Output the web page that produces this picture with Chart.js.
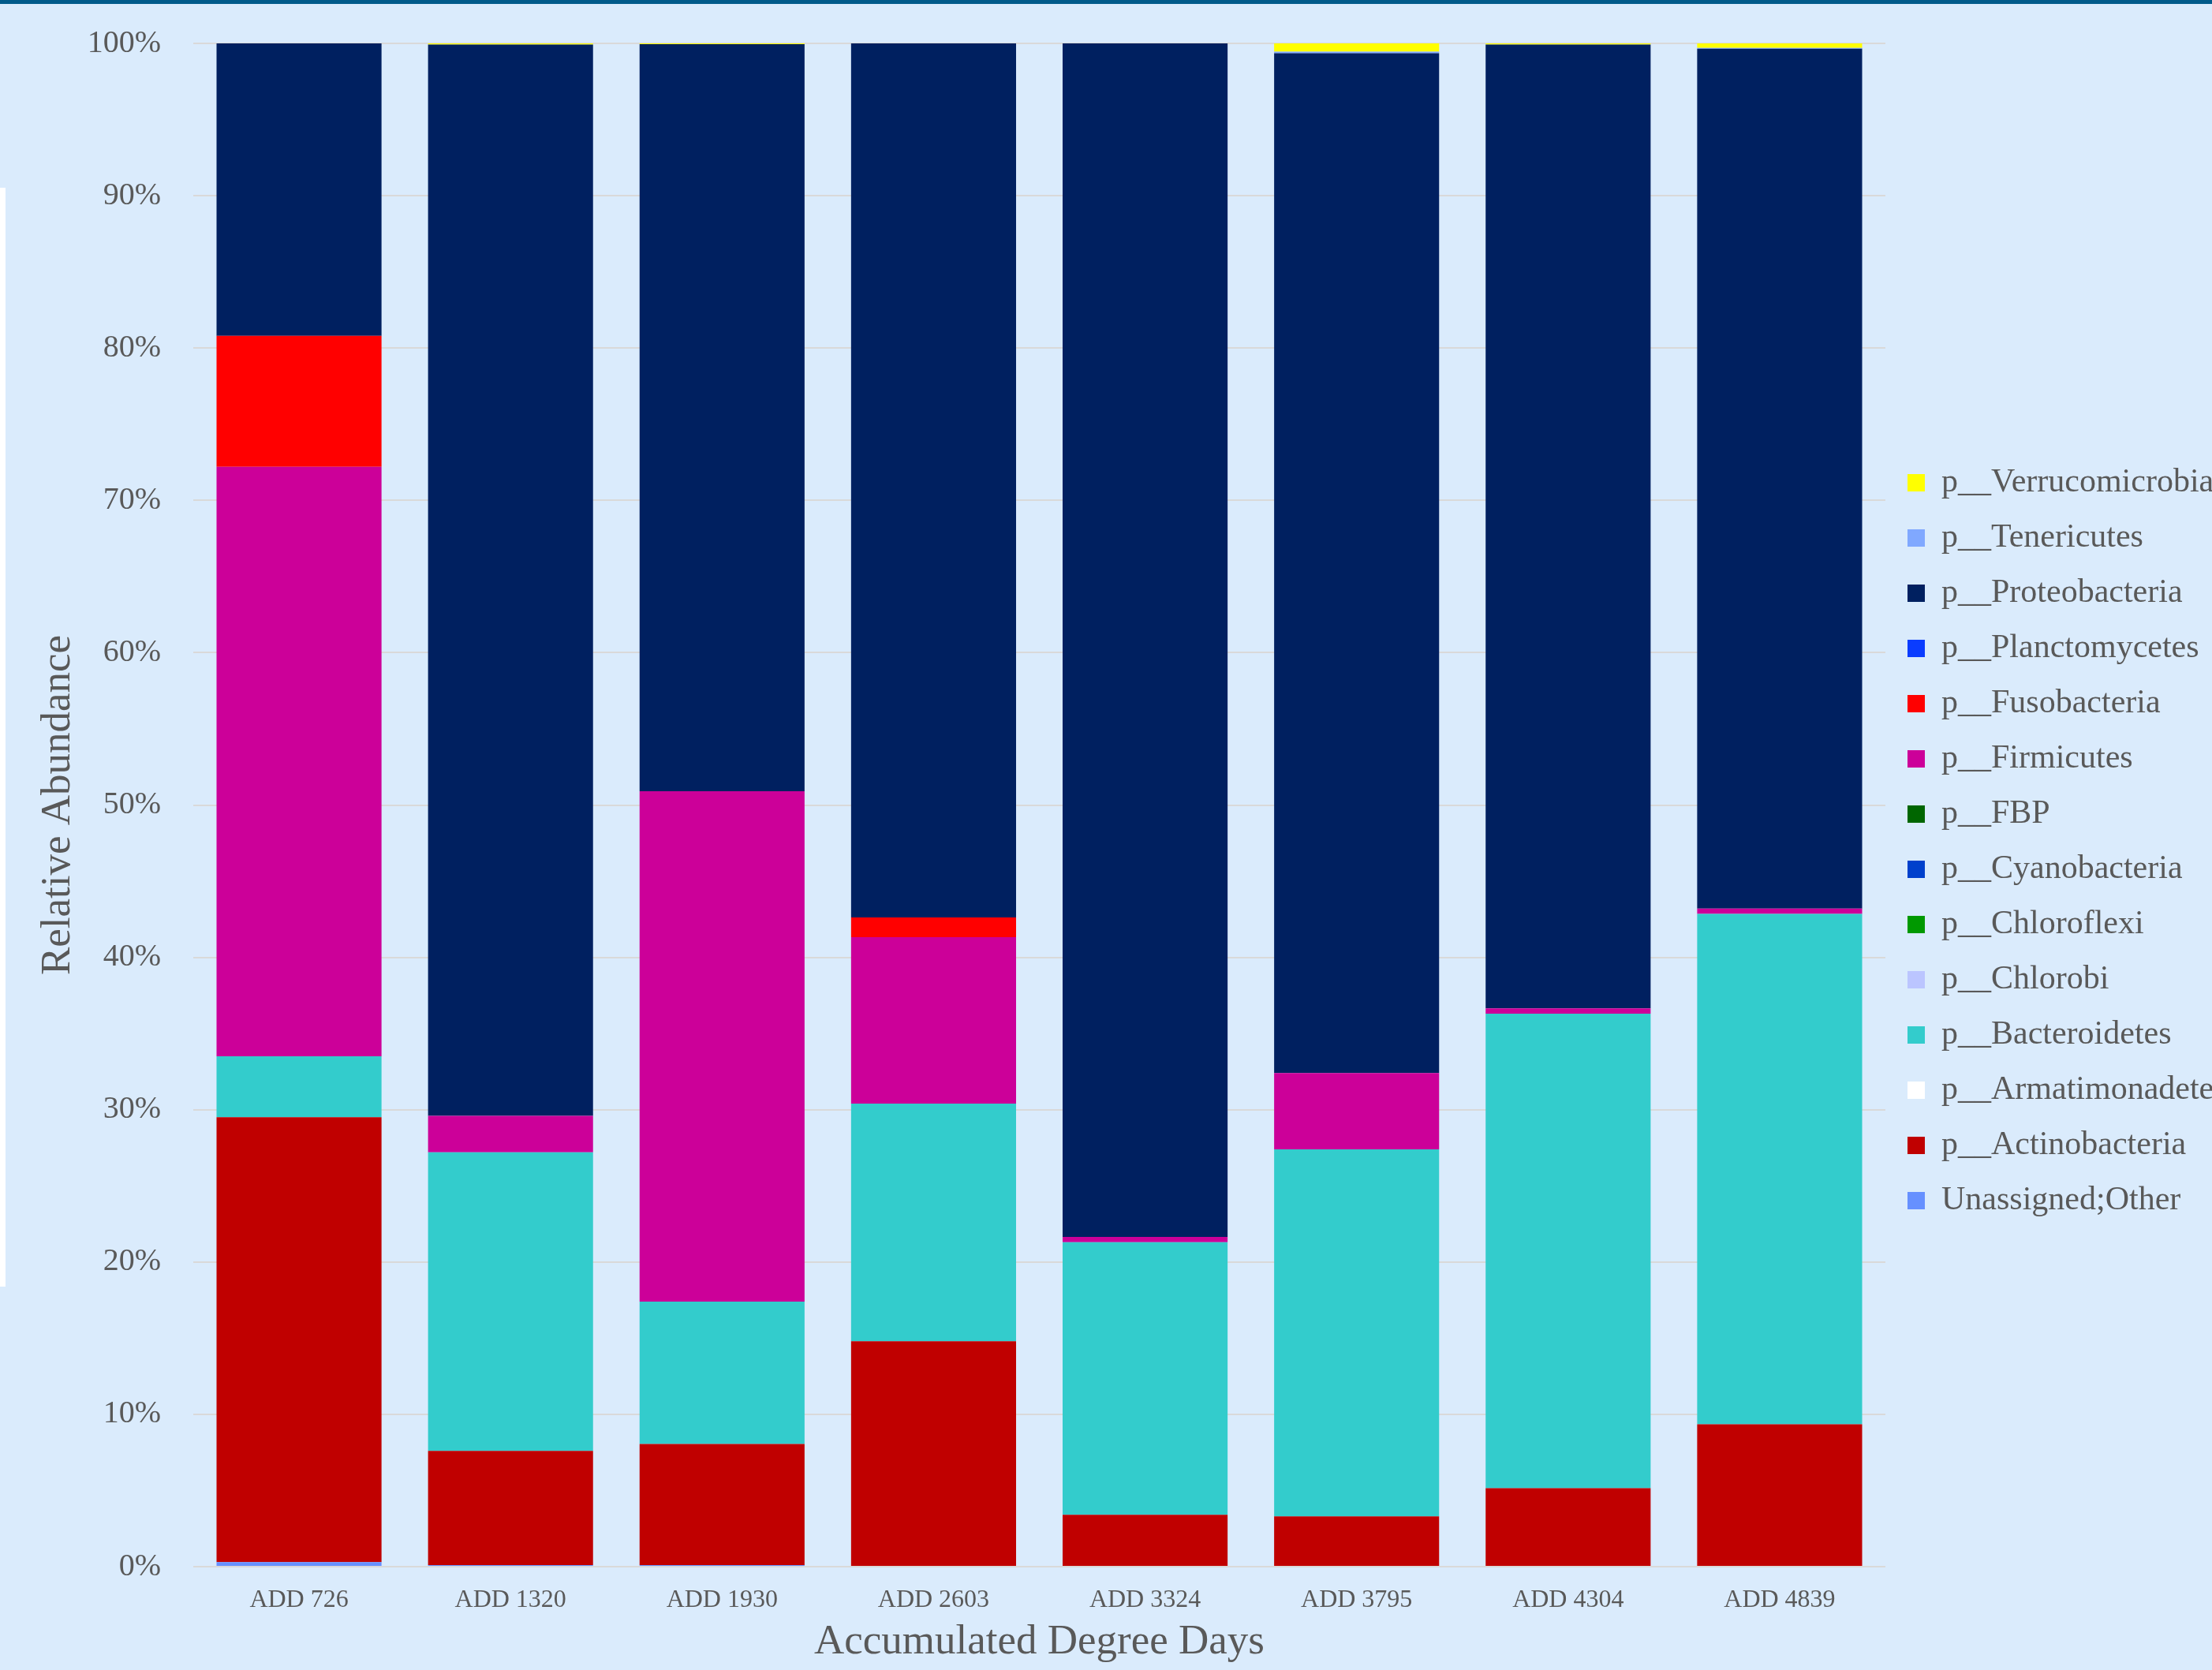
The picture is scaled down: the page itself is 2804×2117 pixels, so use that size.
<!DOCTYPE html>
<html>
<head>
<meta charset="utf-8">
<title>Relative Abundance by Accumulated Degree Days</title>
<script src="https://cdn.jsdelivr.net/npm/chart.js@4.4.1/dist/chart.umd.min.js"></script>
<style>
  html, body {
    margin: 0;
    padding: 0;
    background: #daebfc;
    overflow: hidden;
  }
  #wrap {
    position: relative;
    width: 2804px;
    height: 2117px;
  }
  #topBar {
    position: absolute;
    left: 0;
    top: 0;
    width: 2804px;
    height: 5px;
    background: #005a8a;
  }
  #sideMark {
    position: absolute;
    left: 0;
    top: 238px;
    width: 7px;
    height: 1393px;
    background: #ffffff;
  }
  #myChart {
    position: absolute;
    left: 0;
    top: 0;
  }
</style>
</head>
<body>
<div id="wrap">
  <canvas id="myChart" width="2804" height="2117"></canvas>
  <div id="topBar"></div>
  <div id="sideMark"></div>
</div>
<script>
// samples, in accumulated degree days
const labels = ["ADD 726", "ADD 1320", "ADD 1930", "ADD 2603", "ADD 3324", "ADD 3795", "ADD 4304", "ADD 4839"];
const yTicks = [0, 10, 20, 30, 40, 50, 60, 70, 80, 90, 100];

// relative abundance per phylum (%), stacked bottom to top
const unassigned      = [0.3, 0.1, 0.1, 0.05, 0.0, 0.05, 0.0, 0.05];
const actinobacteria  = [29.2, 7.5, 7.95, 14.75, 3.4, 3.25, 5.15, 9.3];
const armatimonadetes = [0, 0, 0, 0, 0, 0, 0, 0];
const bacteroidetes   = [4.0, 19.6, 9.35, 15.6, 17.9, 24.1, 31.15, 33.5];
const chlorobi        = [0, 0, 0, 0, 0, 0, 0, 0];
const chloroflexi     = [0, 0, 0, 0, 0, 0, 0, 0];
const cyanobacteria   = [0, 0, 0, 0, 0, 0, 0, 0];
const fbp             = [0, 0, 0, 0, 0, 0, 0, 0];
const firmicutes      = [38.7, 2.4, 33.5, 10.93, 0.35, 5.0, 0.35, 0.35];
const fusobacteria    = [8.6, 0, 0, 1.29, 0, 0, 0, 0];
const planctomycetes  = [0, 0, 0, 0, 0, 0, 0, 0];
const proteobacteria  = [19.2, 70.32, 49.05, 57.38, 78.35, 66.95, 63.27, 56.45];
const tenericutes     = [0, 0, 0, 0, 0, 0.1, 0, 0.05];
const verrucomicrobia = [0, 0.08, 0.05, 0, 0, 0.55, 0.08, 0.3];

const series = [
  { label: "Unassigned;Other", data: unassigned, color: "#6690ff" },
  { label: "p__Actinobacteria", data: actinobacteria, color: "#c00000" },
  { label: "p__Armatimonadetes", data: armatimonadetes, color: "#ffffff" },
  { label: "p__Bacteroidetes", data: bacteroidetes, color: "#33cccc" },
  { label: "p__Chlorobi", data: chlorobi, color: "#bbc5ff" },
  { label: "p__Chloroflexi", data: chloroflexi, color: "#009900" },
  { label: "p__Cyanobacteria", data: cyanobacteria, color: "#0040cc" },
  { label: "p__FBP", data: fbp, color: "#006600" },
  { label: "p__Firmicutes", data: firmicutes, color: "#cc0099" },
  { label: "p__Fusobacteria", data: fusobacteria, color: "#ff0000" },
  { label: "p__Planctomycetes", data: planctomycetes, color: "#0a3cff" },
  { label: "p__Proteobacteria", data: proteobacteria, color: "#002060" },
  { label: "p__Tenericutes", data: tenericutes, color: "#80a8ff" },
  { label: "p__Verrucomicrobia", data: verrucomicrobia, color: "#ffff00" },
];

const textColor = "#595959";
const serif = "'Liberation Serif', 'Times New Roman', serif";

Chart.defaults.font.family = serif;
Chart.defaults.color = textColor;

const ctx = document.getElementById("myChart");

new Chart(ctx, {
  type: "bar",
  data: {
    labels: labels,
    datasets: series.map((s) => ({
      label: s.label,
      data: s.data,
      backgroundColor: s.color,
      borderColor: s.color,
      borderWidth: 0,
      categoryPercentage: 0.78,
      barPercentage: 1.0,
    })),
  },
  options: {
    responsive: false,
    animation: false,
    devicePixelRatio: 1,
    layout: {
      padding: { top: 17, right: 0, bottom: 0, left: 0 },
    },
    plugins: {
      tooltip: { enabled: false },
      legend: {
        position: "right",
        reverse: true,
        maxWidth: 414,
        labels: {
          color: textColor,
          font: { family: serif, size: 42 },
          boxWidth: 22,
          boxHeight: 22,
          padding: 28,
        },
      },
    },
    scales: {
      x: {
        stacked: true,
        grid: { display: false },
        border: { display: false },
        ticks: {
          color: textColor,
          font: { family: serif, size: 32 },
          padding: 15,
          maxRotation: 0,
        },
        title: {
          display: true,
          text: "Accumulated Degree Days",
          color: textColor,
          font: { family: serif, size: 53 },
          padding: { top: 0, bottom: 3 },
        },
        afterFit: (scale) => {
          scale.height = 131;
        },
      },
      y: {
        stacked: true,
        min: 0,
        max: 100,
        afterBuildTicks: (scale) => {
          scale.ticks = yTicks.map((v) => ({ value: v }));
        },
        grid: {
          color: "#d9d9d9",
          lineWidth: 2,
          drawTicks: false,
        },
        border: { display: false },
        ticks: {
          color: textColor,
          font: { family: serif, size: 40 },
          padding: 41,
          callback: (value) => value + "%",
        },
        title: {
          display: true,
          text: "Relative Abundance",
          color: textColor,
          font: { family: serif, size: 53 },
          padding: { top: 42, bottom: 0 },
        },
        afterFit: (scale) => {
          scale.width = 245;
          scale.paddingTop = 55;
        },
      },
    },
  },
});
</script>
</body>
</html>
